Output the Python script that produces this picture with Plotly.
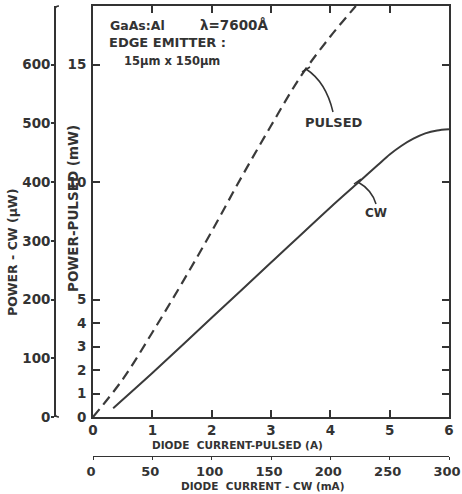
import plotly.graph_objects as go

# ---------------- data ----------------
pulsed_current_A = [0.0, 0.5, 1.0, 1.5, 2.0, 2.5, 3.0, 3.5, 4.0, 4.43]
pulsed_power_mW = [0.0, 1.6, 3.6, 5.7, 7.9, 10.2, 12.4, 14.5, 16.2, 17.5]

cw_current_mA = [17, 50, 100, 150, 200, 225, 240, 250, 260, 270, 280, 290, 300]
cw_power_uW = [15, 75, 169, 263, 357, 402, 429, 447, 462, 474, 483, 488, 490]

x_pulsed_ticks = [0, 1, 2, 3, 4, 5, 6]
y_pulsed_ticks = [0, 1, 2, 3, 4, 5, 10, 15]
x_cw_ticks = [0, 50, 100, 150, 200, 250, 300]
y_cw_ticks = [0, 100, 200, 300, 400, 500, 600]

# ---------------- layout helpers ----------------
W, H = 462, 494
ML, MR, MT, MB = 20, 13, 6, 10
PW, PH = W - ML - MR, H - MT - MB


def fx(px):
    return (px - ML) / PW


def fy(py):
    return (H - MB - py) / PH


INK = "#333333"
FONT = "DejaVu Sans"

x_dom = [fx(93), 1.0]
y_dom = [fy(417), 1.0]

fig = go.Figure()
fig.add_trace(go.Scatter(
    x=pulsed_current_A, y=pulsed_power_mW, mode="lines",
    line=dict(color="#3a3a3a", width=2.2, dash="10px,6px", shape="spline"),
    xaxis="x", yaxis="y", showlegend=False, hoverinfo="skip"))
fig.add_trace(go.Scatter(
    x=cw_current_mA, y=cw_power_uW, mode="lines",
    line=dict(color="#3a3a3a", width=2.0, shape="spline", smoothing=0.8),
    xaxis="x2", yaxis="y2", showlegend=False, hoverinfo="skip"))

tickfont = dict(family=FONT, size=13.5, color=INK, weight="bold")
tickfont_small = dict(family=FONT, size=13, color=INK, weight="bold")

fig.update_layout(
    width=W, height=H,
    margin=dict(l=ML, r=MR, t=MT, b=MB, autoexpand=False),
    paper_bgcolor="white", plot_bgcolor="white",
    xaxis=dict(domain=x_dom, range=[0, 6], anchor="y",
               tickvals=x_pulsed_ticks, ticktext=[str(v) for v in x_pulsed_ticks],
               ticks="inside", ticklen=7, tickwidth=1.5, tickcolor=INK,
               showline=True, linecolor=INK, linewidth=2, mirror="ticks",
               showgrid=False, zeroline=False, tickfont=tickfont,
               ticklabelstandoff=0, ticklabeloverflow="allow"),
    yaxis=dict(domain=y_dom, range=[0, 17.5], anchor="x",
               tickvals=y_pulsed_ticks, ticktext=[str(v) for v in y_pulsed_ticks],
               ticks="inside", ticklen=7, tickwidth=1.5, tickcolor=INK,
               showline=True, linecolor=INK, linewidth=2, mirror="ticks",
               showgrid=False, zeroline=False, tickfont=tickfont,
               ticklabelstandoff=2, ticklabeloverflow="allow"),
    xaxis2=dict(domain=x_dom, range=[0, 300], overlaying="x", anchor="free",
                position=fy(456), side="bottom",
                tickvals=x_cw_ticks, ticktext=[str(v) for v in x_cw_ticks],
                ticks="outside", ticklen=3, tickwidth=1, tickcolor=INK,
                showline=True, linecolor=INK, linewidth=1.2,
                showgrid=False, zeroline=False, tickfont=tickfont_small,
                ticklabelstandoff=0, ticklabelshift=-2,
                ticklabeloverflow="allow"),
    yaxis2=dict(domain=y_dom, range=[0, 700], overlaying="y", anchor="free",
                position=fx(55), side="left",
                tickvals=y_cw_ticks, ticktext=[str(v) for v in y_cw_ticks],
                ticks="outside", ticklen=3, tickwidth=1.5, tickcolor=INK,
                showline=True, linecolor=INK, linewidth=1.6,
                showgrid=False, zeroline=False, tickfont=tickfont,
                ticklabelstandoff=-2, ticklabeloverflow="allow"),
)


def note(text, px, py, angle=0, size=11, xanchor="center"):
    fig.add_annotation(text=text, x=fx(px), y=fy(py), xref="paper", yref="paper",
                       showarrow=False, textangle=angle, xanchor=xanchor,
                       yanchor="middle",
                       font=dict(family=FONT, size=size, color=INK, weight="bold"))


note("POWER - CW (µW)", 12, 253, angle=-90, size=12.5)
note("POWER-PULSED (mW)", 73, 209, angle=-90, size=13.5)
note("DIODE  CURRENT-PULSED (A)", 237, 445, size=10.5)
note("DIODE  CURRENT - CW (mA)", 263, 486, size=10.5)
note("GaAs:Al", 108, 25, size=12.5, xanchor="left")
note("λ=7600Å", 198, 25, size=13.5, xanchor="left")
note("EDGE EMITTER :", 107, 43, size=13, xanchor="left")
note("15µm x 150µm", 122, 61, size=11.5, xanchor="left")
note("PULSED", 334, 123, size=13)
note("CW", 376, 213, size=12)


def P(px, py):
    return f"{fx(px):.5f},{fy(py):.5f}"


shapes = [
    dict(type="path", path=f"M {P(306,69)} Q {P(326,82)} {P(333,112)}"),
    dict(type="path", path=f"M {P(302,72)} L {P(310,67)}"),
    dict(type="path", path=f"M {P(358,182)} Q {P(372,190)} {P(376,204)}"),
    dict(type="path", path=f"M {P(354,184)} L {P(361,179)}"),
    dict(type="path", path=f"M {P(55,10)} Q {P(55,6)} {P(59,6)}"),
    dict(type="path", path=f"M {P(55,413)} Q {P(55,417)} {P(59,417)}"),
]
for s in shapes:
    s.update(xref="paper", yref="paper", line=dict(color=INK, width=1.5))
    fig.add_shape(**s)

fig.write_html("out.html", config={"displayModeBar": False},
               post_script="document.body.style.margin='0';")
